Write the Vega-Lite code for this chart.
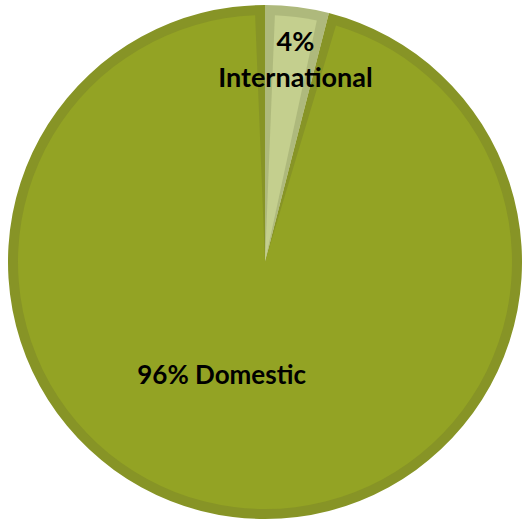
{
  "$schema": "https://vega.github.io/schema/vega-lite/v6.json",
  "width": 522,
  "height": 521,
  "autosize": {"type": "fit", "contains": "padding"},
  "padding": {"left": 8, "top": 5, "right": 0, "bottom": 2},
  "background": "white",
  "view": {"stroke": null},
  "data": {"values": [
    {"category": "International", "value": 4},
    {"category": "Domestic", "value": 96}
  ]},
  "encoding": {
    "theta": {"field": "value", "type": "quantitative", "stack": true},
    "order": {"field": "value", "sort": "ascending"}
  },
  "layer": [
    {
      "mark": {"type": "arc", "outerRadius": 257},
      "encoding": {
        "fill": {"condition": {"test": "datum.category === 'International'", "value": "#AEB97C"}, "value": "#879426"}
      }
    },
    {
      "mark": {"type": "arc", "outerRadius": 247, "padAngle": 0.08},
      "encoding": {
        "fill": {"condition": {"test": "datum.category === 'International'", "value": "#C4CF8E"}, "value": "#93A324"}
      }
    },
    {
      "mark": {"type": "text", "radius": 203, "dx": 5, "dy": -18, "lineBreak": "\n", "font": "Lato", "fontWeight": "bold", "fontSize": 27, "lineHeight": 36, "color": "black", "baseline": "middle"},
      "encoding": {"text": {"condition": {"test": "datum.category === 'International'", "value": "4%\nInternational"}, "value": ""}}
    },
    {
      "mark": {"type": "text", "radius": 115, "dx": -29, "font": "Lato", "fontWeight": "bold", "fontSize": 26, "color": "black", "baseline": "middle"},
      "encoding": {"text": {"condition": {"test": "datum.category === 'Domestic'", "value": "96% Domestic"}, "value": ""}}
    }
  ]
}
